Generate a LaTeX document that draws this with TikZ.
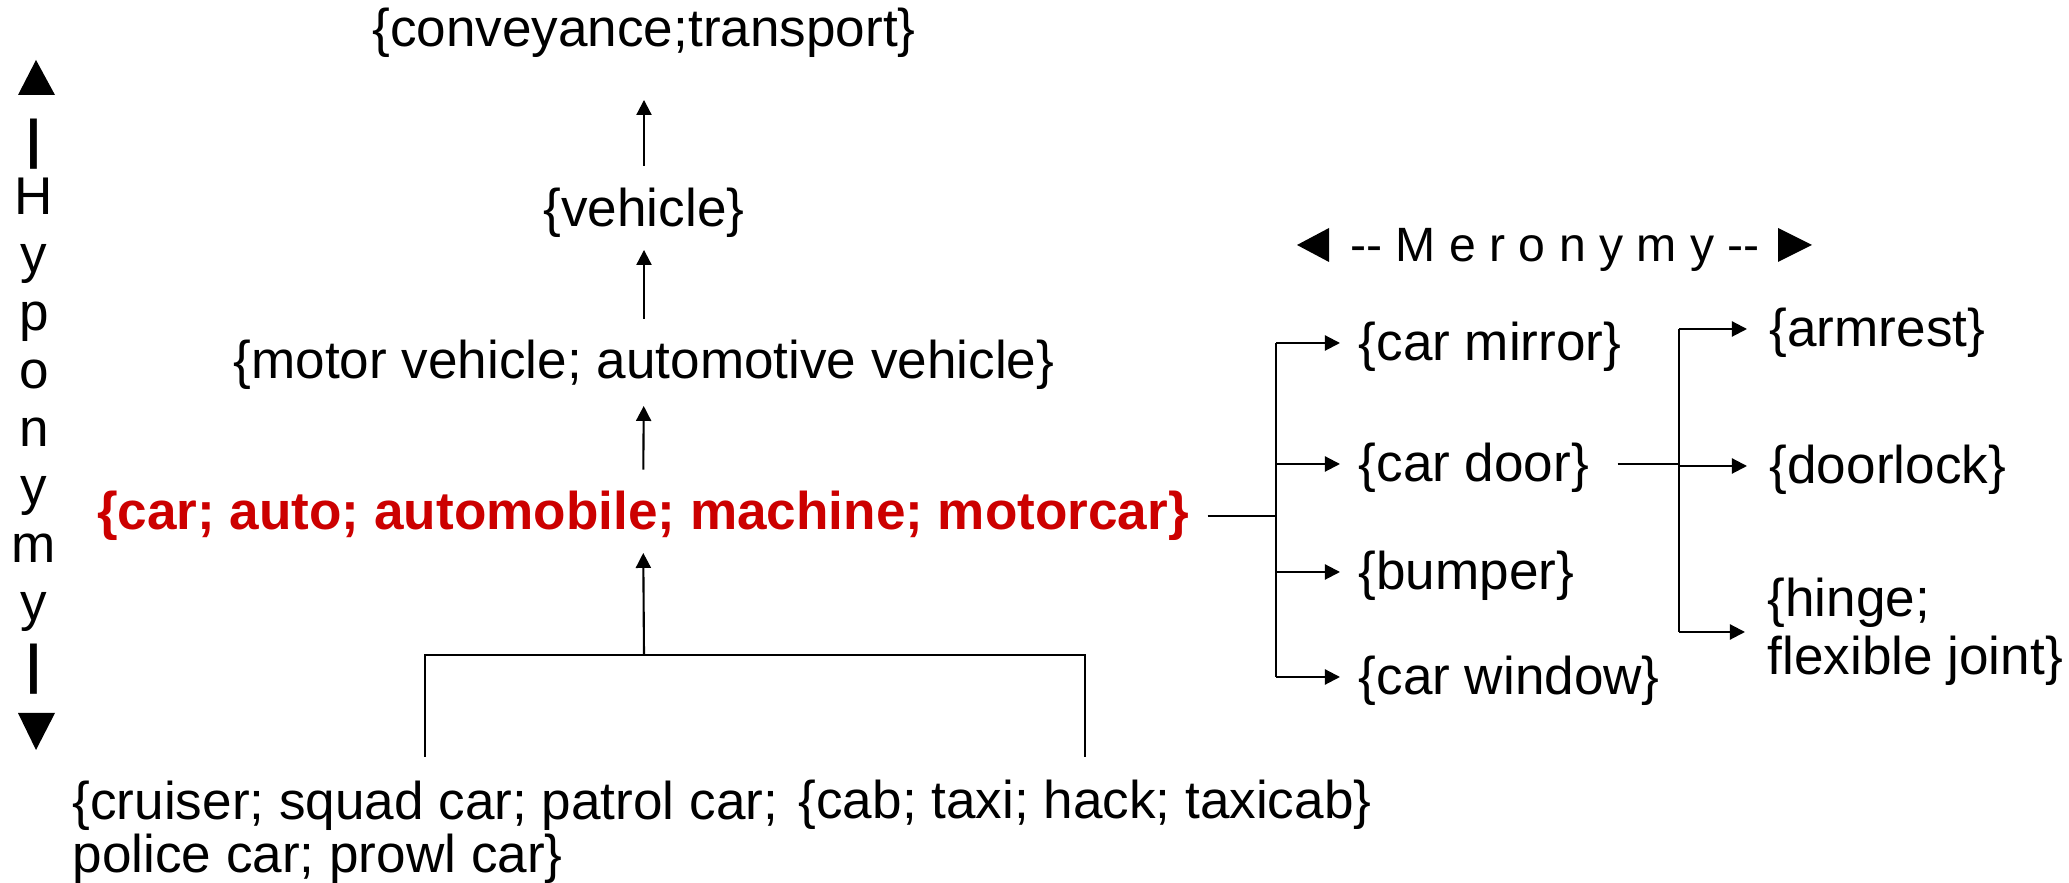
\documentclass[tikz,border=0pt]{standalone}
\usepackage{fontspec}
\setmainfont{Liberation Sans}
\usetikzlibrary{arrows.meta}
\definecolor{synred}{RGB}{204,0,0}
\begin{document}
\begin{tikzpicture}[x=0.01cm,y=-0.01cm,
  synset/.style={inner sep=0pt, font=\fontsize{15.1pt}{18pt}\selectfont,
    text height=11pt, text depth=3.2pt},
  part/.style={synset, text height=13.3pt},
  focus/.style={synset, font=\fontsize{15.1pt}{18pt}\selectfont\bfseries, text=synred},
  twoline/.style={inner sep=0pt, align=left},
  hyletter/.style={inner sep=0pt, font=\fontsize{15.1pt}{18pt}\selectfont},
  relabel/.style={inner sep=0pt, font=\fontsize{13.7pt}{16pt}\selectfont},
  link/.style={line width=0.6pt},
  arr/.style={link, -{Triangle[length=0.15cm,width=0.15cm]}}]
\useasboundingbox (0,0) rectangle (2069,883);

% hypernym chain
\node[synset, anchor=base] (conv)  at (644,47)  {\{conveyance;transport\}};
\node[synset, anchor=base] (veh)   at (644,227) {\{vehicle\}};
\node[synset, anchor=base] (motor) at (644,379) {\{motor vehicle; automotive vehicle\}};
\node[focus,  anchor=base] (car)   at (643,530) {\{car; auto; automobile; machine; motorcar\}};

\draw[arr, shorten <=0.22cm, shorten >=0.41cm] (veh) -- (conv);
\draw[arr, shorten <=0.21cm, shorten >=0.11cm] (motor) -- (veh);
\draw[arr, shorten <=0.21cm, shorten >=0.15cm] (car) -- (motor);

% hyponyms
\node[twoline, anchor=north west, font=\fontsize{15.1pt}{15.2pt}\selectfont] (police) at (72,780)
  {\{cruiser; squad car; patrol car;\\police car; prowl car\}};
\node[synset, anchor=base west] (cab) at (798,819) {\{cab; taxi; hack; taxicab\}};

\coordinate (hub) at (644,655);
\draw[link] ([yshift=0.23cm]police.north) |- (hub) -| ([yshift=0.23cm]cab.north);
\draw[arr, shorten >=0.11cm] (hub) -- (car);

% meronyms of car
\coordinate (sp1) at (1276,512);
\node[part, anchor=west] (mirror) at (1358,343) {\{car mirror\}};
\node[part, anchor=west] (door)   at (1358,464) {\{car door\}};
\node[part, anchor=west] (bumper) at (1358,572) {\{bumper\}};
\node[part, anchor=west] (window) at (1358,677) {\{car window\}};

\draw[link, shorten <=0.18cm] (car.east) -- (car.east -| sp1);
\draw[link] (sp1 |- mirror) -- (sp1 |- window);
\foreach \p in {mirror,door,bumper,window}
  \draw[arr, shorten >=0.18cm] (sp1 |- \p) -- (\p);

% meronyms of car door
\coordinate (sp2) at (1679,464);
\node[part, anchor=west] (armrest)  at (1769,329) {\{armrest\}};
\node[part, anchor=west] (doorlock) at (1769,466) {\{doorlock\}};
\node[twoline, anchor=west, font=\fontsize{15.1pt}{16.5pt}\selectfont] (hinge) at (1767,632)
  {\{hinge;\\flexible joint\}};

\draw[link, shorten <=0.28cm] (door) -- (door -| sp2);
\draw[link] (sp2 |- armrest) -- (sp2 |- hinge);
\foreach \p in {armrest,doorlock,hinge}
  \draw[arr, shorten >=0.22cm] (sp2 |- \p) -- (\p);

% relation labels
\node[relabel, anchor=base] (mero) at (1555,262) {-{}- M e r o n y m y -{}-};
\fill (1297,245) -- (1329,228) -- (1329,262) -- cycle;
\fill (1812,245) -- (1778,228) -- (1778,262) -- cycle;

\node[hyletter, anchor=base, font=\fontsize{15.1pt}{18pt}\selectfont\bfseries] (hytop) at (34,158) {|};
\foreach \ch [count=\i] in {H,y,p,o,n,y,m,y}
  \node[hyletter, anchor=base] (hy\i) at (34,{215+58*(\i-1)}) {\ch};
\node[hyletter, anchor=base, font=\fontsize{15.1pt}{18pt}\selectfont\bfseries] (hybot) at (34,683) {|};
\fill (36,60) -- (55,95) -- (18,95) -- cycle;
\fill (18,713) -- (55,713) -- (36,750) -- cycle;
\end{tikzpicture}
\end{document}
